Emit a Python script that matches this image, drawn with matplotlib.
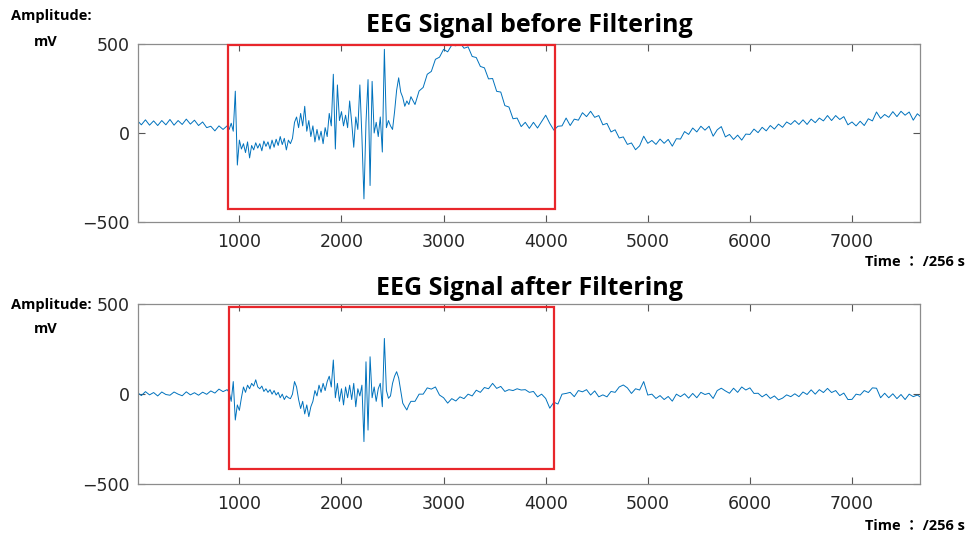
import numpy as np
import matplotlib
matplotlib.use("Agg")
import matplotlib.pyplot as plt
from matplotlib.patches import Rectangle

# ---------------- data ----------------
# Sampling grid segments: start sample, step (samples)
seg_starts = [0, 880, 2680]
seg_steps = [40, 20, 40]

before_a = [70, 46, 74, 44, 68, 42, 70, 46, 76, 44, 70, 48, 78, 50, 72, 42, 62, 30, 38, 12, 40, 20]
before_b = [40, 20, 55, 10, 235, -180, -40, -90, -60, -110,
            -50, -140, -70, -95, -55, -85, -60, -100, -45, -75,
            -50, -90, -40, -80, -35, -70, -20, -65, -30, -95,
            -40, -60, -30, 60, 90, 30, 110, 40, 150, 10,
            70, -20, 40, -50, 20, -40, 10, -60, 30, -20,
            110, 40, 330, -90, 270, 70, 120, 40, 100, 30,
            180, 60, -80, 90, 20, 270, -20, -370, 60, 300,
            -295, 290, 0, 60, -20, 90, -107, 470, 30, 70,
            40, 20, 120, 240, 310, 230, 200, 150, 180, 160]
before_c = [204, 160, 236, 256, 330, 346, 414, 426, 470, 456, 494, 490, 508, 476, 484, 430,
            424, 374, 366, 304, 306, 234, 230, 154, 146, 80, 84, 36, 60, 26, 60, 28, 64, 100,
            54, 16, 38, 40, 84, 42, 78, 72, 114, 92, 122, 88, 98, 46, 54, 6, 18, -28, -22,
            -64, -56, -94, -72, -18, -58, -42, -64, -34, -58, -36, -74, -32, -34, 8, -8, 28,
            6, 38, 16, 38, -18, 18, 36, -22, -8, -36, -12, -40, -6, -8, 22, 2, 32, 12, 42,
            22, 50, 32, 62, 48, 70, 48, 74, 48, 78, 58, 84, 68, 98, 70, 98, 76, 92, 46, 62,
            40, 66, 42, 80, 68, 118, 82, 104, 88, 120, 92, 122, 100, 118, 72, 108, 88]

after_a = [10, -8, 14, -4, 9, -10, 12, -2, -6, 12, 0, -9, 13, -4, 8, -6, 11, -1, 18, 6, 28, 14]
after_b = [25, 10, -40, 70, -144, -60, -90, -20, 40, 10,
           50, 30, 60, 45, 80, 40, 30, 45, 15, 30,
           10, 25, 0, 20, -5, 10, -20, 0, -30, -10,
           -20, -25, 0, 70, 40, -30, -80, -40, -110, -60,
           -125, -70, -40, 20, -10, 50, 10, 60, 20, 70,
           100, 40, 190, -20, 60, -40, 30, -60, 40, -20,
           50, -30, 60, -70, 30, -10, 50, -264, 180, -200,
           208, -20, 40, -40, 30, 60, -70, 310, 20, -23,
           -10, 60, 100, 125, 90, 20, -50, -70, -88, -60]
after_c = [-40, -40, 0, 0, 35, 28, 40, -5, -20, -50,
           -25, -38, -15, -25, 0, -10, 22, 10, 37, 30,
           60, 32, 43, 15, 25, 20, 30, 23, 25, 10,
           15, -15, 0, -24, -78, -45, -55, 0, 4, 10,
           -14, 20, 13, 25, -5, 18, -15, -4, -15, 15,
           10, 40, 51, 35, 4, 30, 23, 70, -5, 0,
           -24, -8, -30, -13, -39, 0, -14, 2, -22, 4,
           -20, 10, -2, 5, -24, 20, 33, 18, 5, 33,
           10, 40, 23, 35, 4, 5, -15, 0, -24, -10,
           -32, -22, -4, -14, 2, -14, 12, -2, 24, 0,
           25, 9, 32, 9, 20, -8, 6, -30, -29, 0,
           -5, 20, 9, 35, 33, -20, 5, -20, 2, -25,
           -2, -30, 0, -14, -5, -20]

titles = ["EEG Signal before Filtering", "EEG Signal after Filtering"]
x_ticks = [1000, 2000, 3000, 4000, 5000, 6000, 7000]
y_ticks = [-500, 0, 500]
# highlighted region (x0, x1, y0, y1) per panel
boxes = [(890, 4093, -428, 497), (900, 4085, -415, 487)]


def build(segments):
    ts, vs = [], []
    for start, step, vals in zip(seg_starts, seg_steps, segments):
        ts.append(start + step * np.arange(len(vals)))
        vs.append(np.asarray(vals, dtype=float))
    return np.concatenate(ts), np.concatenate(vs)


series = [build([before_a, before_b, before_c]), build([after_a, after_b, after_c])]

# ---------------- figure ----------------
W, H = 968, 535
fig = plt.figure(figsize=(W / 100, H / 100), dpi=100)

ax_rects = [
    (138.3 / W, 1 - 222 / H, (920 - 138.3) / W, 178 / H),
    (138.3 / W, 1 - 484 / H, (920 - 138.3) / W, 179.7 / H),
]
title_pads = [8.6, 6.7]

spine_col = "#8c8c8c"
tick_col = "#262626"

for i, ax_rect in enumerate(ax_rects):
    ax = fig.add_axes(ax_rect)
    t, v = series[i]
    ax.plot(t, v, color="#0072BD", lw=0.7)
    ax.set_xlim(10, 7666)
    ax.set_ylim(-500, 500)
    ax.set_xticks(x_ticks)
    ax.set_yticks(y_ticks)
    ax.set_yticklabels(["\u2212500", "0", "500"])
    for s in ax.spines.values():
        s.set_color(spine_col)
        s.set_linewidth(0.9)
    ax.tick_params(direction="in", length=5, width=0.8, color="#555555",
                   labelcolor=tick_col, labelsize=12.5, top=True, right=True,
                   pad=6)
    ax.tick_params(axis="x", pad=8)
    x0, x1, y0, y1 = boxes[i]
    ax.add_patch(Rectangle((x0, y0), x1 - x0, y1 - y0, fill=False,
                           edgecolor="#E8262B", lw=1.6, clip_on=False, zorder=5))
    ax.set_title(titles[i], fontsize=18, fontweight="bold", family="Open Sans",
                 pad=title_pads[i], color="black")

def ftext(x, y, s, **kw):
    fig.text(x / W, 1 - y / H, s, family=["Open Sans", "Noto Sans CJK TC"],
             fontweight="bold", fontsize=10.5, color="black", va="center", **kw)

ftext(11, 16, "Amplitude:", ha="left")
ftext(46, 42, "mV", ha="center")
ftext(11, 305, "Amplitude:", ha="left")
ftext(46, 329, "mV", ha="center")
ftext(965, 262, "Time \uff1a /256 s", ha="right")
ftext(965, 526, "Time \uff1a /256 s", ha="right")

fig.savefig("out.png", dpi=100)
